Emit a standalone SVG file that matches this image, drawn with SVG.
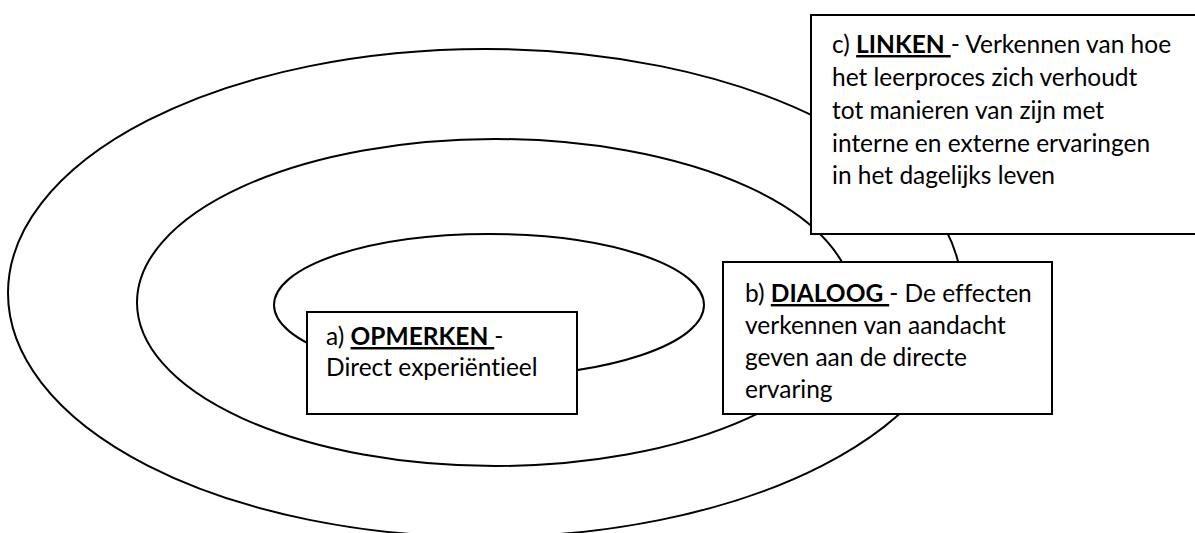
<svg xmlns="http://www.w3.org/2000/svg" width="1195" height="533" viewBox="0 0 1195 533">
<style>
.ring{fill:none;stroke:#000;stroke-width:2}
.box{fill:#fff;stroke:#000;stroke-width:2}
.t{font-family:Lato,"Liberation Sans",sans-serif;font-size:24.5px;fill:#000;font-variant-ligatures:none}
.k{font-weight:bold;text-decoration:underline}
</style>
<rect width="1195" height="533" fill="#fff"/>
<g id="rings">
<ellipse id="ring-outer" class="ring" cx="485" cy="293" rx="477" ry="244"/>
<ellipse id="ring-middle" class="ring" cx="495" cy="302.5" rx="358" ry="163.5"/>
<ellipse id="ring-inner" class="ring" cx="489" cy="305" rx="215" ry="71"/>
</g>
<g id="node-a">
<rect class="box" x="307" y="312" width="270" height="102"/>
<text class="t" x="326" y="345">a) <tspan class="k">OPMERKEN </tspan>-</text>
<text class="t" x="326" y="376">Direct experiëntieel</text>
</g>
<g id="node-b">
<rect class="box" x="723" y="262" width="329" height="152"/>
<text class="t" x="745" y="302">b) <tspan class="k">DIALOOG </tspan>- De effecten</text>
<text class="t" x="745" y="334">verkennen van aandacht</text>
<text class="t" x="745" y="366">geven aan de directe</text>
<text class="t" x="745" y="398">ervaring</text>
</g>
<g id="node-c">
<rect class="box" x="811" y="15" width="400" height="219"/>
<text class="t" x="832" y="53">c) <tspan class="k">LINKEN </tspan>- Verkennen van hoe</text>
<text class="t" x="832" y="86">het leerproces zich verhoudt</text>
<text class="t" x="832" y="119">tot manieren van zijn met</text>
<text class="t" x="832" y="152">interne en externe ervaringen</text>
<text class="t" x="832" y="184">in het dagelijks leven</text>
</g>
</svg>
